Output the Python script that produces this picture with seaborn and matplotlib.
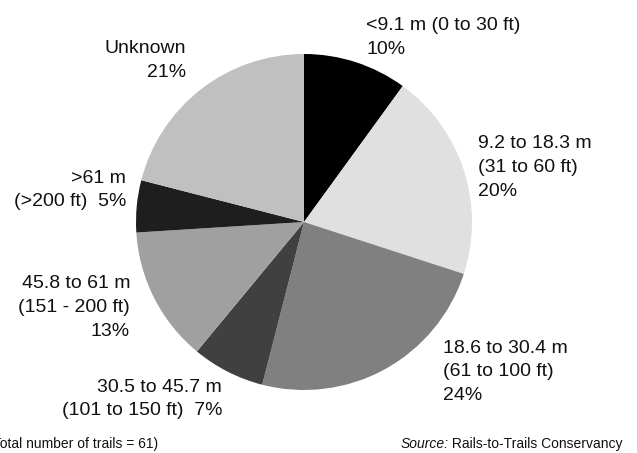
import matplotlib
matplotlib.use("Agg")
import matplotlib.pyplot as plt
import seaborn as sns

categories = ["<9.1 m (0 to 30 ft)", "9.2 to 18.3 m (31 to 60 ft)", "18.6 to 30.4 m (61 to 100 ft)",
              "30.5 to 45.7 m (101 to 150 ft)", "45.8 to 61 m (151 - 200 ft)", ">61 m (>200 ft)", "Unknown"]
values = [10, 20, 24, 7, 13, 5, 21]
colors = ["#000000", "#e0e0e0", "#808080", "#404040", "#a0a0a0", "#1e1e1e", "#c0c0c0"]
label_texts = ["<9.1 m (0 to 30 ft)\n10%",
               "9.2 to 18.3 m\n(31 to 60 ft)\n20%",
               "18.6 to 30.4 m\n(61 to 100 ft)\n24%",
               "30.5 to 45.7 m\n(101 to 150 ft)  7%",
               "45.8 to 61 m\n(151 - 200 ft)\n13%",
               ">61 m\n(>200 ft)  5%",
               "Unknown\n21%"]
footnote = "(Total number of trails = 61)"
source_label = "Source:"
source_text = " Rails-to-Trails Conservancy"

sns.set_theme(style="white")
plt.rcParams['font.family'] = ['Liberation Sans', 'DejaVu Sans']

W, H = 637, 453
fig = plt.figure(figsize=(W / 100, H / 100), dpi=100)
ax = fig.add_axes([0, 0, 1, 1])

cx, cy, r = 304, 222, 168
ax.pie(values, colors=colors, startangle=90, counterclock=False,
       center=(cx, H - cy), radius=r, frame=True,
       wedgeprops=dict(linewidth=0))
ax.set_xlim(0, W)
ax.set_ylim(0, H)
ax.set_aspect('equal')
ax.axis('off')

TXT = '#111111'
FS = 14
LS = 23.5  # line step in px
# label placement (x, y center of block, ha)
pos = [(366, 35, 'left'), (478, 165, 'left'), (443, 369.5, 'left'),
       (222, 396.5, 'right'), (130, 305, 'right'), (126, 187.5, 'right'),
       (186, 58, 'right')]
for txt, (x, y, ha) in zip(label_texts, pos):
    lines = txt.split("\n")
    n = len(lines)
    for i, line in enumerate(lines):
        yc = y + (i - (n - 1) / 2) * LS
        ax.text(x, H - (yc + 7), line, ha=ha, va='baseline', fontsize=FS, color=TXT)

FS2 = 10
ax.text(158, H - 448, footnote, ha='right', va='baseline', fontsize=FS2, color=TXT)
rest = ax.text(623, H - 448, source_text, ha='right', va='baseline', fontsize=FS2, color=TXT)
fig.canvas.draw()
bb = rest.get_window_extent()
x0 = ax.transData.inverted().transform((bb.x0, bb.y0))[0]
ax.text(x0, H - 448, source_label, ha='right', va='baseline', fontsize=FS2, color=TXT,
        style='italic')

fig.savefig("out.png", dpi=100)
